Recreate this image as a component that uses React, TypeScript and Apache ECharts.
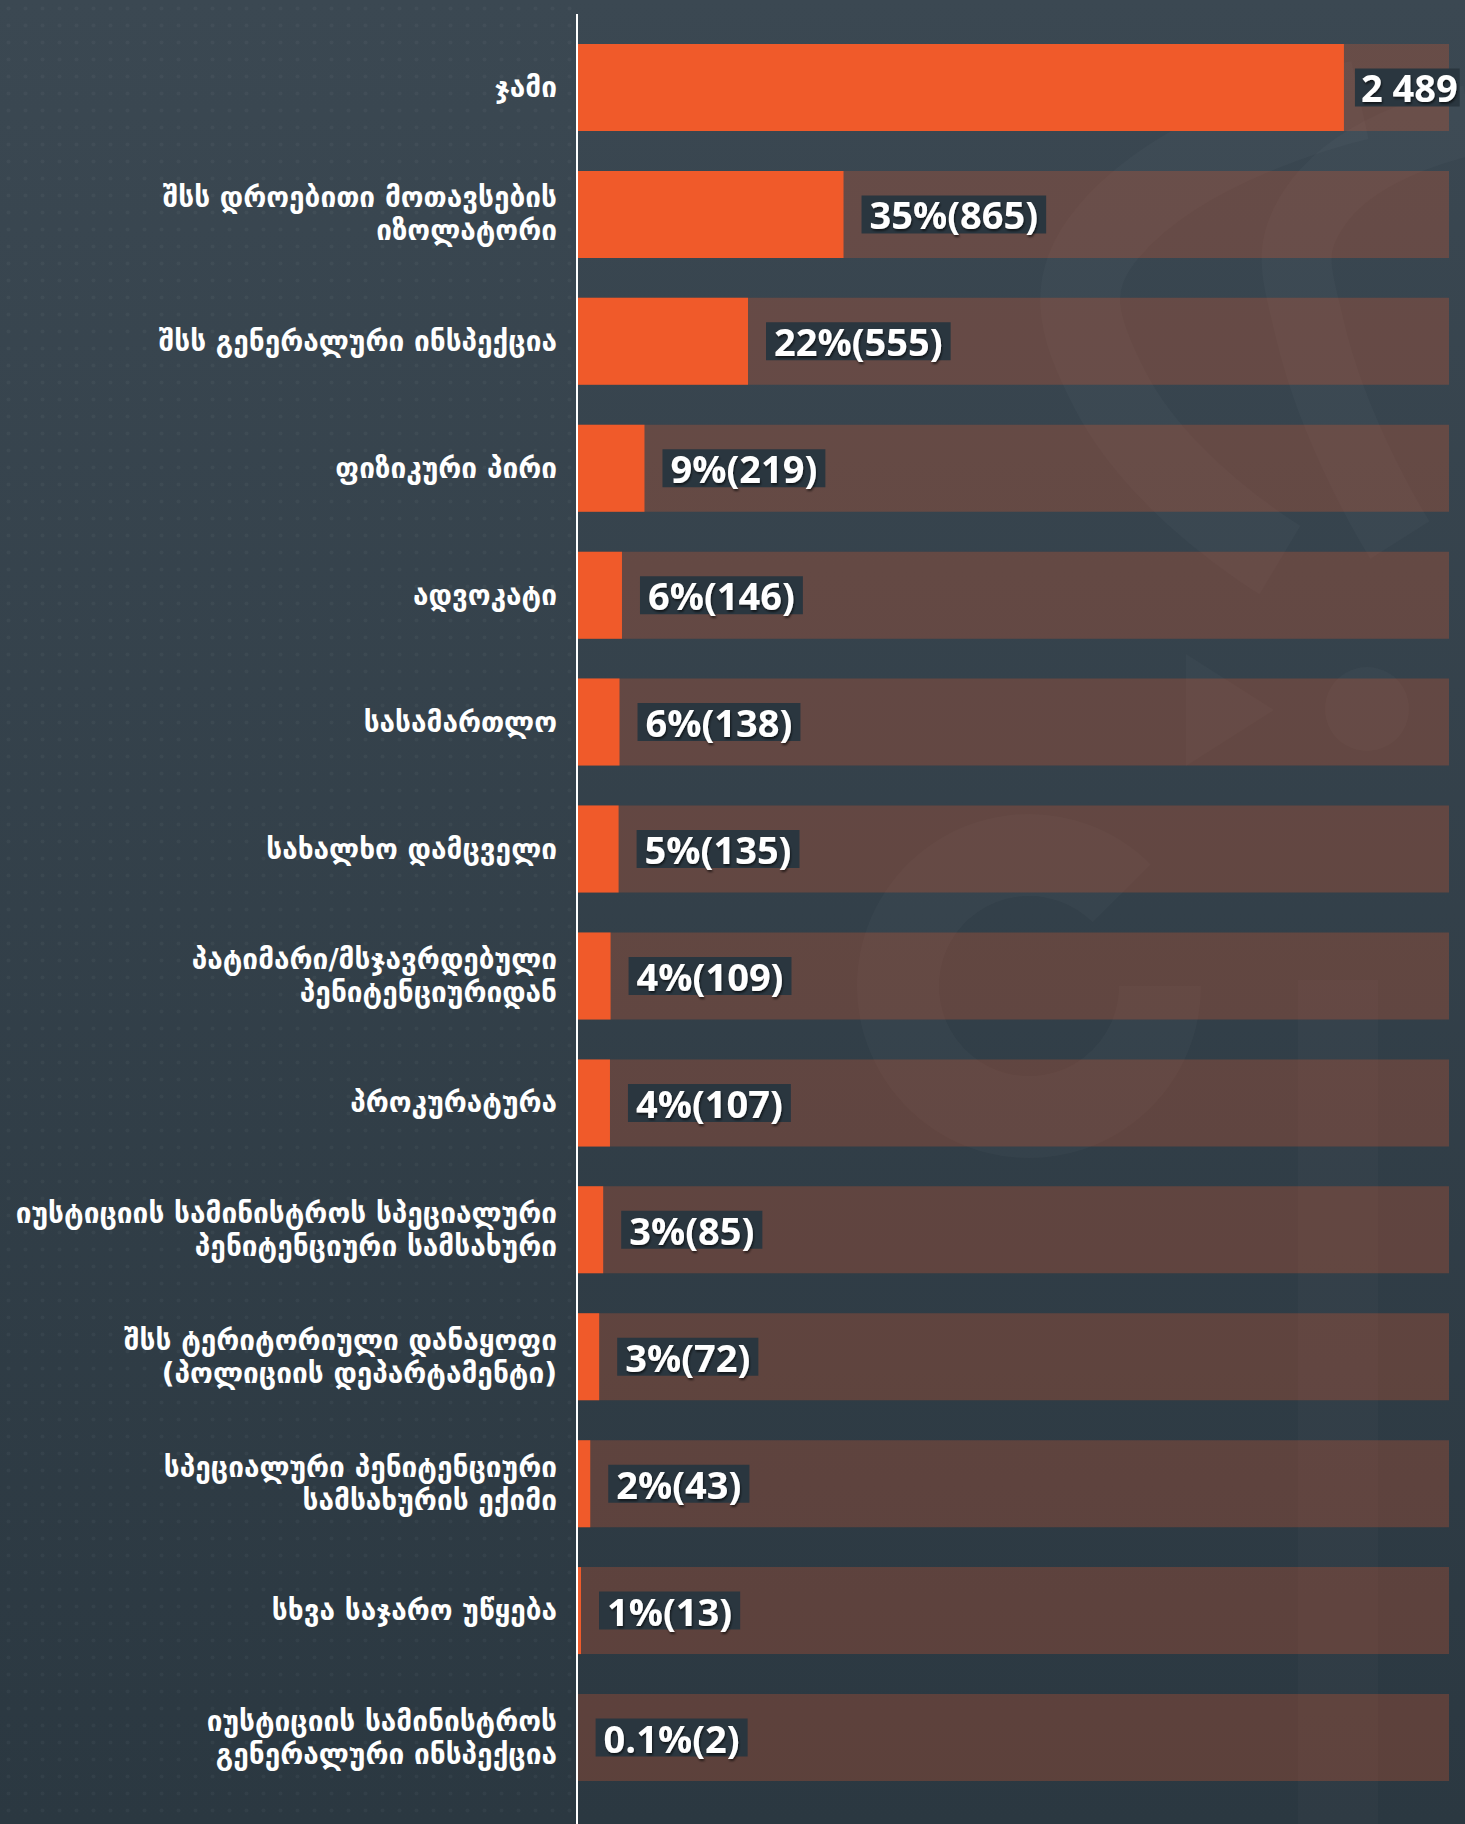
import React, { useEffect, useRef } from "react";
import * as echarts from "echarts";

const categories = [
  "ჯამი",
  "შსს დროებითი მოთავსების\nიზოლატორი",
  "შსს გენერალური ინსპექცია",
  "ფიზიკური პირი",
  "ადვოკატი",
  "სასამართლო",
  "სახალხო დამცველი",
  "პატიმარი/მსჯავრდებული\nპენიტენციურიდან",
  "პროკურატურა",
  "იუსტიციის სამინისტროს სპეციალური\nპენიტენციური სამსახური",
  "შსს ტერიტორიული დანაყოფი\n(პოლიციის დეპარტამენტი)",
  "სპეციალური პენიტენციური\nსამსახურის ექიმი",
  "სხვა საჯარო უწყება",
  "იუსტიციის სამინისტროს\nგენერალური ინსპექცია",
];
const values = [2489, 865, 555, 219, 146, 138, 135, 109, 107, 85, 72, 43, 13, 2];
const percentLabels = ["", "35%", "22%", "9%", "6%", "6%", "5%", "4%", "4%", "3%", "3%", "2%", "1%", "0.1%"];
const totalLabel = "2 489";
const axisMax = 2830;

function makeDotPattern(): HTMLCanvasElement {
  const c = document.createElement("canvas");
  c.width = 17;
  c.height = 17;
  const ctx = c.getContext("2d");
  if (ctx) {
    ctx.fillStyle = "rgba(255,255,255,0.035)";
    ctx.beginPath();
    ctx.arc(8.5, 8.5, 2, 0, Math.PI * 2);
    ctx.fill();
  }
  return c;
}

export default function App() {
  const ref = useRef<HTMLDivElement>(null);
  useEffect(() => {
    if (!ref.current) return;
    const chart = echarts.init(ref.current, null, { renderer: "svg" });
    const wm = "rgba(255,255,255,0.022)";
    const barData = values.map((v, i) =>
      i === 0
        ? { value: v, label: { distance: 11, padding: [0, 2, 0, 6] } }
        : { value: v }
    );
    chart.setOption({
      animation: false,
      backgroundColor: {
        type: "linear",
        x: 0, y: 0, x2: 0, y2: 1,
        colorStops: [
          { offset: 0, color: "#3b4852" },
          { offset: 1, color: "#2b3841" },
        ],
      },
      grid: { left: 577, right: 16, top: 24, bottom: 23, containLabel: false },
      xAxis: {
        type: "value",
        min: 0,
        max: axisMax,
        show: false,
      },
      yAxis: {
        type: "category",
        inverse: true,
        data: categories,
        axisLine: { show: false },
        axisTick: { show: false },
        axisLabel: {
          color: "#ffffff",
          fontFamily: "DejaVu Sans",
          fontWeight: "bold",
          fontSize: 28,
          lineHeight: 33,
          margin: 20,
          align: "right",
        },
      },
      series: [
        {
          type: "bar",
          data: barData,
          barWidth: 87,
          showBackground: true,
          backgroundStyle: { color: "rgba(240,90,42,0.25)" },
          itemStyle: { color: "#f05a2a" },
          label: {
            show: true,
            position: "right",
            distance: 18,
            formatter: (p: any) =>
              p.dataIndex === 0 ? totalLabel : `${percentLabels[p.dataIndex]}(${p.value})`,
            color: "#ffffff",
            fontFamily: "Open Sans",
            fontWeight: "bold",
            fontSize: 38,
            lineHeight: 38,
            backgroundColor: "#2a363f",
            padding: [0, 8, 0, 8],
            textShadowColor: "rgba(0,0,0,0.6)",
            textShadowBlur: 2,
            textShadowOffsetX: 1,
            textShadowOffsetY: 2,
          },
        },
      ],
      graphic: [
        {
          type: "rect",
          shape: { x: 0, y: 0, width: 577, height: 1824 },
          style: { fill: { image: makeDotPattern(), repeat: "repeat" } as any },
          silent: true,
          z: -10,
        },
        {
          type: "polyline",
          shape: {
            points: [[1360, 100], [1110, 230], [1110, 390], [1280, 560]],
            smooth: 0.5,
          },
          style: { stroke: wm, lineWidth: 80, fill: null },
          silent: true,
          z: -10,
        },
        {
          type: "polyline",
          shape: {
            points: [[1470, 120], [1320, 200], [1310, 330], [1400, 540]],
            smooth: 0.5,
          },
          style: { stroke: wm, lineWidth: 70, fill: null },
          silent: true,
          z: -10,
        },
        {
          type: "polygon",
          shape: { points: [[1186, 654], [1186, 766], [1274, 710]] },
          style: { fill: wm },
          silent: true,
          z: -10,
        },
        {
          type: "circle",
          shape: { cx: 1367, cy: 709, r: 42 },
          style: { fill: wm },
          silent: true,
          z: -10,
        },
        {
          type: "arc",
          shape: { cx: 1029, cy: 986, r: 131, startAngle: 0, endAngle: Math.PI * 1.75 },
          style: { stroke: wm, lineWidth: 82, fill: null },
          silent: true,
          z: -10,
        },
        {
          type: "rect",
          shape: { x: 1298, y: 980, width: 80, height: 844 },
          style: { fill: "rgba(255,255,255,0.018)" },
          silent: true,
          z: -10,
        },
        {
          type: "line",
          shape: { x1: 577, y1: 14, x2: 577, y2: 1824 },
          style: { stroke: "#ffffff", lineWidth: 2 },
          z: 10,
        },
      ],
    });
    return () => chart.dispose();
  }, []);
  return (
    <div
      ref={ref}
      style={{ position: "absolute", left: 0, top: 0, width: 1465, height: 1824 }}
    />
  );
}
